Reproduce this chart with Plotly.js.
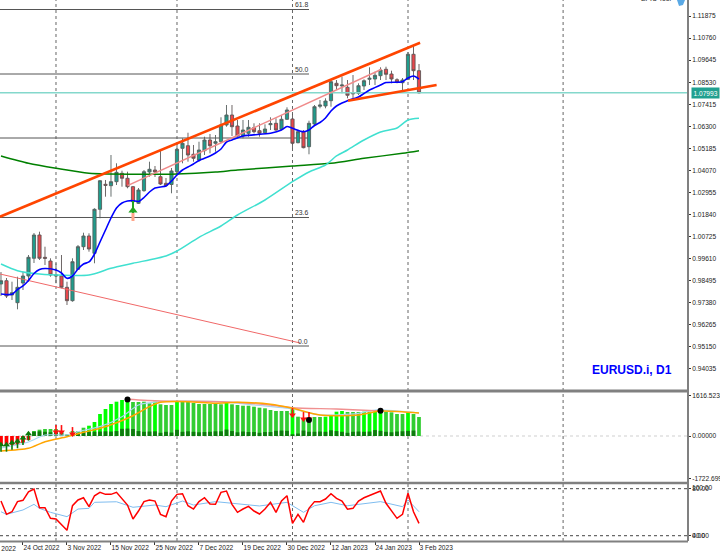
<!DOCTYPE html>
<html><head><meta charset="utf-8">
<script src="https://cdn.plot.ly/plotly-3.0.1.min.js"></script>
<style>html,body{margin:0;padding:0;background:#fff;overflow:hidden}#c{width:720px;height:557px}</style>
</head><body><div id="c"></div>
<script>
// Bar numbers: 0 = 18 Oct 2022 ... 76 = 3 Feb 2023
const open=[.98331,.98497,.97775,.97386,.98381,.98735,.99630,1.00807,.99680,.99493,.98735,.98735,.98164,.97487,.99073,1.00216,1.00757,.99882,1.02106,1.03369,1.03299,1.03501,1.03925,1.03673,1.03248,1.02409,1.03046,1.03991,1.04092,1.03754,1.03420,1.03359,1.04006,1.05189,1.05320,1.04886,1.04598,1.05068,1.05608,1.05442,1.05522,1.06366,1.06872,1.06316,1.05811,1.05947,1.06230,1.06078,1.05977,1.06382,1.06452,1.06149,1.06655,1.06670,1.05472,1.06028,1.05270,1.06417,1.07312,1.07327,1.07595,1.08474,1.08338,1.08272,1.07999,1.07969,1.08338,1.08676,1.08691,1.08858,1.09182,1.08944,1.08656,1.08504,1.08676,1.09940,1.09111];
const high=[.98937,.98634,.98447,.98699,.98952,.99796,1.00908,1.00974,1.00216,.99630,.99377,.99796,.98447,.99630,1.00302,1.00923,1.00893,1.02157,1.03587,1.03587,1.04850,1.04431,1.04057,1.04006,1.03284,1.03182,1.04092,1.04512,1.04294,1.05068,1.03688,1.04193,1.05442,1.05694,1.05977,1.05356,1.05522,1.05775,1.05912,1.05861,1.06756,1.07377,1.07377,1.06619,1.06619,1.06619,1.06452,1.06452,1.06402,1.06756,1.06705,1.06872,1.07261,1.06922,1.06114,1.06114,1.06584,1.07377,1.07630,1.07716,1.08641,1.08641,1.08808,1.08641,1.08893,1.08474,1.08676,1.09283,1.09060,1.09283,1.09313,1.09111,1.08727,1.08742,1.10056,1.10359,1.09449];
const low=[.97724,.97623,.97522,.97052,.98027,.98447,.99392,.99544,.99291,.98699,.98366,.98113,.97269,.97436,.99038,1.00049,.99963,.99377,1.01651,1.02743,1.02743,1.03334,1.03248,1.03167,1.02323,1.02374,1.02995,1.03754,1.03738,1.03334,1.03248,1.02915,1.03890,1.04431,1.04512,1.04512,1.04512,1.04850,1.04936,1.05017,1.05442,1.06281,1.05811,1.05775,1.05694,1.05775,1.05947,1.05775,1.05912,1.06114,1.06078,1.06114,1.06619,1.05189,1.05442,1.05189,1.04886,1.06366,1.07210,1.07210,1.07291,1.08135,1.07969,1.07716,1.07630,1.07883,1.08135,1.08388,1.08388,1.08641,1.08641,1.08474,1.08474,1.08049,1.08641,1.08641,1.07950];
const close=[.98497,.97724,.97891,.98164,.98735,.99680,1.00807,.99630,.99630,.98785,.98785,.98164,.97487,.99458,1.00216,1.00757,1.00100,1.02106,1.03551,1.03319,1.03501,1.03976,1.03673,1.03248,1.02490,1.03081,1.04006,1.04128,1.03991,1.03385,1.03299,1.04042,1.05138,1.05442,1.04850,1.04684,1.05103,1.05608,1.05320,1.05522,1.06366,1.06872,1.06281,1.05811,1.06114,1.06250,1.06028,1.05947,1.06164,1.06432,1.06114,1.06655,1.07125,1.05442,1.06028,1.05219,1.06452,1.07291,1.07377,1.07579,1.08555,1.08353,1.08388,1.07868,1.07948,1.08353,1.08605,1.08727,1.08878,1.09146,1.08929,1.08691,1.08525,1.08641,1.09940,1.09111,1.07993];

const maFastBars=[0,2,3,4,5,6,7,8,10,11,12,13,14,15,16,17,18,19,20,21,22,23,24,25,26,27,28,29,30,31,32,33,34,35,36,38,39,40,41,42,44,49,51,52,53,55,56,57,58,59,60,61,62,63,65,66,67,69,70,73,74,75,76];
const maFast=[.97825,.97810,.98053,.98230,.98507,.98861,.99063,.99114,.99038,.98887,.98619,.98735,.99089,.99341,.99443,.99847,1.00453,1.01060,1.01666,1.02172,1.02424,1.02525,1.02541,1.02500,1.02702,1.02980,1.03182,1.03233,1.03284,1.03536,1.03839,1.04092,1.04244,1.04395,1.04572,1.04800,1.04951,1.05154,1.05507,1.05608,1.05811,1.05947,1.06114,1.06291,1.06200,1.06028,1.06114,1.06341,1.06493,1.06720,1.07074,1.07327,1.07478,1.07595,1.07782,1.07959,1.08135,1.08388,1.08514,1.08555,1.08742,1.08843,1.08691];
const maMidBars=[0,3,7,16,20,24,30,32,36,40,43,48,53,56,59,61,63,66,69,72,74,76];
const maMid=[.99341,.99003,.98836,.98785,.99124,.99377,.99746,.99999,1.00691,1.01262,1.01818,1.02576,1.03501,1.03991,1.04345,1.04800,1.05103,1.05608,1.06013,1.06215,1.06619,1.06705];
const maSlowBars=[0,5,10,16,26,32,39,43,53,60,66,73,76];
const maSlow=[1.04800,1.04431,1.04178,1.03925,1.03875,1.03890,1.03991,1.04092,1.04294,1.04431,1.04684,1.04936,1.05068];

const lastPrice=1.07993;
const fibLevels=[1.12204,1.08944,1.05709,1.01692,.95197];
const fibLabels=["61.8","50.0","","23.6","0.0"];
const fibStartBar=-0.18, fibEndBar=56;
const channelUpperBars=[-0.18,76.2], channelUpper=[1.01732,1.10526];
const channelLowerBars=[63.1,79.2], channelLower=[1.07595,1.08388];
const channelPinkBars=[23,69.2], channelPink=[1.03299,1.09182];
const fallLineBars=[-0.18,54.4], fallLine=[.98836,.95349];
const signalArrowBar=[24,24], signalArrowGreen=[1.02525,1.01919], signalArrowTail=[1.01919,1.01515];

const histValues=[-400,-360,-360,-360,-280,-160,202,255,283,283,283,202,40,202,202,335,416,566,889,1091,1293,1386,1454,1547,1374,1374,1386,1321,1386,1281,1252,1252,1374,1374,1374,1333,1293,1293,1293,1293,1281,1361,1281,1252,1224,1224,1184,1143,1119,1050,1010,1010,1010,1091,780,727,727,768,768,780,820,982,1010,970,970,970,982,982,982,982,982,957,889,889,957,889,768];
const histDark=[0,0,0,0,0,0,170,190,170,150,170,110,60,120,120,150,160,170,180,190,180,200,290,300,280,200,170,180,190,130,170,140,250,170,190,170,150,160,170,190,190,260,200,150,180,160,160,130,160,160,210,220,210,70,100,220,170,170,180,170,230,200,170,130,170,180,170,180,240,210,170,150,180,190,210,220,0];
const histColors=["#ff0000","#ff0000","#ff0000","#ff0000","#ff0000","#ff0000","#32cd32","#32cd32","#32cd32","#32cd32","#32cd32","#32cd32","#32cd32","#32cd32","#32cd32","#32cd32","#00ff00","#00ff00","#00ff00","#00ff00","#00ff00","#00ff00","#00ff00","#00ff00","#32cd32","#32cd32","#32cd32","#32cd32","#00ff00","#32cd32","#32cd32","#32cd32","#00ff00","#32cd32","#32cd32","#32cd32","#32cd32","#32cd32","#32cd32","#32cd32","#32cd32","#00ff00","#32cd32","#32cd32","#32cd32","#32cd32","#32cd32","#32cd32","#32cd32","#32cd32","#32cd32","#32cd32","#32cd32","#00ff00","#32cd32","#32cd32","#32cd32","#32cd32","#32cd32","#00ff00","#00ff00","#00ff00","#00ff00","#32cd32","#32cd32","#32cd32","#00ff00","#00ff00","#00ff00","#00ff00","#32cd32","#32cd32","#32cd32","#32cd32","#00ff00","#32cd32","#32cd32"];
const signalBars=[0,5,8,12,15,18,21,24,27,29,34,39,43,49,53,58,65,69,76];
const signal=[-606,-497,-230,-28,149,311,537,820,1184,1361,1386,1321,1361,1281,1119,848,848,1010,929];
const signalBlueBars=[0,5,8,12,14,18,22,25,29,40,46,53,58,65,68,76];
const signalBlue=[-485,-242,40,40,174,376,780,1252,1386,1386,1252,1091,848,917,1050,929];
const signalPinkBars=[23,29,40,49,53,61,69];
const signalPink=[1483,1414,1386,1252,1143,1091,1010];
const dotBars=[23,56,69], dots=[1478,646,1022];
const arrowUpBars=[0,1,2,3,4,5], arrowUp=[-353,-353,-272,-215,-82,92];
const arrowUpStem=[280,280,280,280,280,280];
const arrowDownBars=[10,11,13,53,55,56], arrowDown=[162,162,81,848,687,687];
const arrowDownStem=[280,280,280,280,280,280];

const rsi=[69.5,58.2,60.4,69.0,70.1,77.4,79.7,63.8,63.8,54.8,54.2,49.1,44.6,65.5,70.4,72.3,64.7,74.0,76.9,75.2,75.2,76.9,71.2,66.1,54.2,61.0,69.0,70.4,69.5,58.2,56.2,69.5,75.2,75.7,65.5,62.7,69.0,72.3,66.9,66.7,76.9,78.0,66.7,59.9,62.7,65.0,61.0,58.5,62.7,68.4,59.9,69.5,74.0,50.5,58.2,51.4,63.3,69.0,69.0,71.2,75.7,71.8,69.5,62.5,63.3,69.5,72.3,74.0,76.1,78.0,67.6,61.0,54.8,58.2,76.1,60.4,50.5];
const rsiAvgBars=[0,1,4,6,7,9,12,14,16,17,21,24,28,30,33,35,39,44,47,52,55,57,60,63,69,73,74,76];
const rsiAvg=[60.4,58.2,61.9,66.7,63.3,59.9,56.2,62.7,63.3,68.4,68.9,64.2,66.1,64.7,69.5,66.1,69,67,65.3,68.4,59.9,65.5,68.4,65.5,69,64.7,70.4,60.4];

const priceTicks=[1.11875,1.10760,1.09645,1.08530,1.07415,1.06300,1.05185,1.04070,1.02955,1.01840,1.00725,.99610,.98495,.97380,.96265,.95150,.94035];
const priceTickText=["1.11875","1.10760","1.09645","1.08530","1.07415","1.06300","1.05185","1.04070","1.02955","1.01840","1.00725","0.99610","0.98495","0.97380","0.96265","0.95150","0.94035"];
const dateTickBars=[4,12,20,28,36,44,52,60,68,76];
const dateTickText=["24 Oct 2022","3 Nov 2022","15 Nov 2022","25 Nov 2022","7 Dec 2022","19 Dec 2022","30 Dec 2022","12 Jan 2023","24 Jan 2023","3 Feb 2023"];
const separatorBars=[10,32,53,74,102.2];

const barNumbers=open.map((_,i)=>i);
const W=720,H=557,PW=688,PH=541;
const pyTop=y=>1-y/PH;
const FONT='"Liberation Sans",Arial,sans-serif';
const line=(x,y,color,width,yaxis,smooth)=>({type:'scatter',mode:'lines',x,y,yaxis,line:Object.assign({color,width},smooth?{shape:'spline',smoothing:.7}:{}),hoverinfo:'skip',showlegend:false,cliponaxis:true});
const pts=(x,y,symbol,color,size,yaxis)=>({type:'scatter',mode:'markers',x,y,yaxis,marker:{symbol,color,size,line:{width:0}},hoverinfo:'skip',showlegend:false});
const arrow=(x,y,stem,symbol,color,up)=>Object.assign(pts(x,y,symbol,color,6,'y2'),{error_y:{type:'data',symmetric:false,array:up?stem.map(()=>0):stem,arrayminus:up?stem:stem.map(()=>0),thickness:1.6,width:0,color}});

const traces=[
  line([fibStartBar,PW/5.5],[lastPrice,lastPrice],'#84d8cc',1.5,'y'),
  line(fallLineBars,fallLine,'#f06868',1,'y'),
  {type:'candlestick',x:barNumbers,open,high,low,close,yaxis:'y',whiskerwidth:0,showlegend:false,hoverinfo:'skip',
   increasing:{line:{color:'#56605e',width:0.9},fillcolor:'#1f9c8c'},
   decreasing:{line:{color:'#5e5656',width:0.9},fillcolor:'#e8474c'}},
  line(maSlowBars,maSlow,'#008000',1.5,'y',true),
  line(maMidBars,maMid,'#40e0d0',1.5,'y',true),
  line(maFastBars,maFast,'#0000ff',1.6,'y',true),
  line(channelPinkBars,channelPink,'#f08a8a',1.5,'y'),
  line(channelUpperBars,channelUpper,'#ff4500',2.6,'y'),
  line(channelLowerBars,channelLower,'#ff4500',2.6,'y'),
  line(signalArrowBar,signalArrowTail,'#ffa58a',3,'y'),
  line(signalArrowBar,signalArrowGreen,'#22a422',2,'y'),
  pts([24],[1.02040],'triangle-up','#22a422',8,'y'),
  {type:'bar',x:barNumbers,y:histValues,yaxis:'y2',width:.68,marker:{color:histColors,line:{width:0}},hoverinfo:'skip',showlegend:false},
  {type:'bar',x:barNumbers,y:histDark,yaxis:'y2',width:.68,marker:{color:'#0f7a0f',line:{width:0}},hoverinfo:'skip',showlegend:false},
  line(signalBlueBars,signalBlue,'#a8d8f0',1.2,'y2',true),
  line(signalPinkBars,signalPink,'#f09090',1.4,'y2',true),
  line(signalBars,signal,'#ffa500',1.5,'y2',true),
  arrow(arrowUpBars,arrowUp,arrowUpStem,'triangle-up','#0a7a0a',true),
  arrow(arrowDownBars,arrowDown,arrowDownStem,'triangle-down','#ff1010',false),
  pts(dotBars,dots,'circle','#000000',6,'y2'),
  line(rsiAvgBars,rsiAvg,'#7fbdf0',1,'y3'),
  line(barNumbers,rsi,'#ff0000',1.5,'y3')
];

const shapes=[];
separatorBars.forEach(b=>shapes.push({type:'line',xref:'x',yref:'paper',x0:b,x1:b,y0:0,y1:1,layer:'below',line:{color:'#666',width:1,dash:'dot'}}));
fibLevels.forEach(v=>shapes.push({type:'line',xref:'x',yref:'y',x0:fibStartBar,x1:fibEndBar,y0:v,y1:v,layer:'below',line:{color:'#555',width:1}}));
shapes.push({type:'line',xref:'x',yref:'y2',x0:fibStartBar,x1:PW/5.5,y0:0,y1:0,layer:'below',line:{color:'#cfcfcf',width:1,dash:'dot'}});
[80,40].forEach(v=>shapes.push({type:'line',xref:'x',yref:'y3',x0:fibStartBar,x1:PW/5.5,y0:v,y1:v,layer:'below',line:{color:'#444',width:1,dash:'dot'}}));
// panel frames
[[391,3],[483,2.5],[541.5,2]].forEach(([y,w])=>shapes.push({type:'line',xref:'paper',yref:'paper',x0:0,x1:1,y0:pyTop(y),y1:pyTop(y),line:{color:'#808080',width:w}}));
shapes.push({type:'line',xref:'paper',yref:'paper',x0:1,x1:1,y0:0,y1:1,line:{color:'#808080',width:2}});
shapes.push({type:'path',xref:'paper',yref:'paper',path:`M ${677/PW} 1 L ${685/PW} 1 L ${683/PW} ${pyTop(5)} L ${679/PW} ${pyTop(6)} Z`,fillcolor:'#5aa9e6',line:{width:0}});

const annotations=[];
const ann=(o)=>annotations.push(Object.assign({showarrow:false,font:{family:FONT,size:6.6,color:'#222'},borderpad:0},o));
fibLevels.forEach((v,i)=>{ if(fibLabels[i]) ann({xref:'x',yref:'y',x:fibEndBar,y:v,text:fibLabels[i],xanchor:'right',yanchor:'bottom',yshift:0,font:{family:FONT,size:6.8,color:'#333'}}); });
ann({xref:'paper',yref:'y',x:691/PW,y:lastPrice,text:'1.07993',xanchor:'left',yanchor:'middle',bgcolor:'#20a090',font:{family:FONT,size:6.6,color:'#fff'},borderpad:1.5});
ann({xref:'paper',yref:'paper',x:673/PW,y:1+1/PH,text:'EPIC Tool',xanchor:'right',yanchor:'middle',font:{family:FONT,size:6.8,color:'#222'}});
ann({xref:'paper',yref:'paper',x:673/PW,y:pyTop(370),text:'<b>EURUSD.i, D1</b>',xanchor:'right',yanchor:'middle',font:{family:FONT,size:12,color:'#0000ff'}});
ann({xref:'paper',yref:'paper',x:-21/PW,y:pyTop(548),text:'12 Oct 2022',xanchor:'left',yanchor:'middle'});
ann({xref:'paper',yref:'y3',x:691/PW,y:81,text:'100.00',xanchor:'left',yanchor:'middle'});
ann({xref:'paper',yref:'y3',x:691/PW,y:40,text:'0.00',xanchor:'left',yanchor:'middle'});

const yBase={side:'right',showgrid:false,zeroline:false,ticks:'outside',ticklen:2,tickwidth:1,tickcolor:'#333',showline:false,fixedrange:true,tickfont:{family:FONT,size:6.6,color:'#222'},tickmode:'array',anchor:'x'};
const layout={
  width:W,height:H,margin:{l:0,r:W-PW,t:0,b:H-PH,pad:0},paper_bgcolor:'#fff',plot_bgcolor:'#fff',showlegend:false,
  barmode:'overlay',boxgap:.18,shapes,annotations,
  xaxis:{range:[fibStartBar,(PW-1)/5.5],anchor:'y3',showgrid:false,zeroline:false,rangeslider:{visible:false},
    tickmode:'array',tickvals:dateTickBars,ticktext:dateTickText,ticks:'outside',ticklen:3,tickcolor:'#333',tickangle:0,
    ticklabelposition:'outside right',tickfont:{family:FONT,size:6.6,color:'#222'},fixedrange:true,showline:false},
  yaxis:Object.assign({},yBase,{domain:[pyTop(390.5),1],range:[.92948,1.12684],tickvals:priceTicks,ticktext:priceTickText}),
  yaxis2:Object.assign({},yBase,{domain:[pyTop(482),pyTop(393)],range:[-1858,1737],tickvals:[1616.5234,0,-1722.699],ticktext:["1616.5234","0.00000","-1722.699"]}),
  yaxis3:Object.assign({},yBase,{domain:[0,pyTop(484)],range:[35.5,84],tickvals:[80,40],ticktext:["80.00","40.00"]})
};
Plotly.newPlot('c',traces,layout,{staticPlot:true,displayModeBar:false});
</script></body></html>
